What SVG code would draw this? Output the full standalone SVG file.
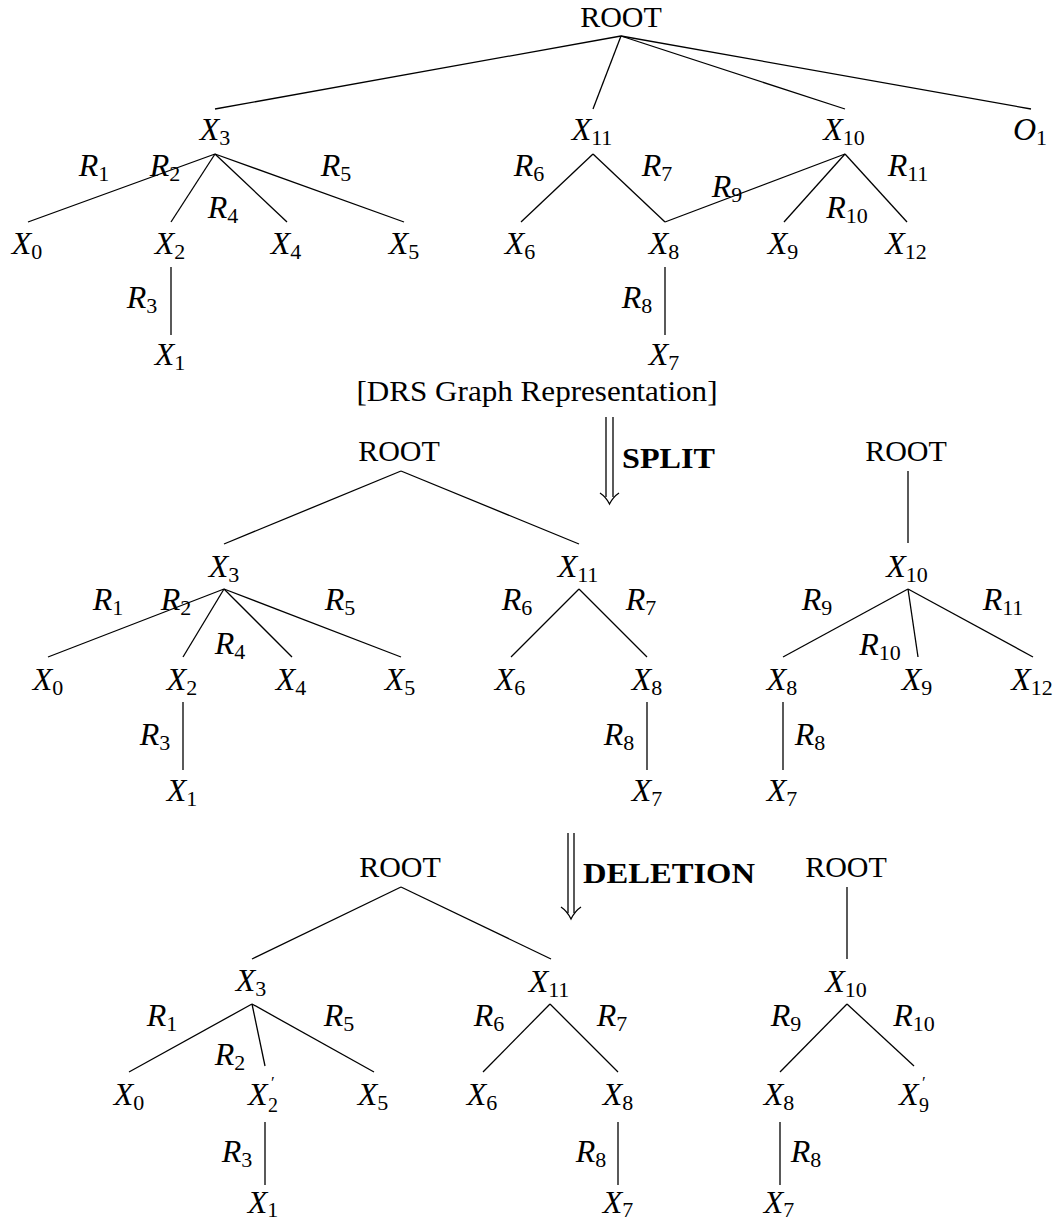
<svg xmlns="http://www.w3.org/2000/svg" width="1063" height="1223" viewBox="0 0 1063 1223">
<style>
text{font-family:"Liberation Serif","DejaVu Serif",serif;fill:#000}
.m{font-style:italic;font-size:32px;text-anchor:middle}
.p{font-style:italic;font-size:32px}
.s{font-style:normal;font-size:22px}
.q{font-style:normal;font-size:17px}
.t{font-style:normal;font-size:20px}
.r{font-size:30px;text-anchor:middle}
.b{font-weight:bold;font-size:30px}
line,path{stroke:#000;stroke-width:1.3;fill:none}
</style>
<rect width="1063" height="1223" fill="#fff"/>
<g id="connectors">
<line x1="621" y1="36" x2="215" y2="109"/>
<line x1="621" y1="36" x2="593" y2="109"/>
<line x1="621" y1="36" x2="845" y2="109"/>
<line x1="621" y1="36" x2="1031" y2="109"/>
<line x1="215" y1="154" x2="28" y2="222"/>
<line x1="215" y1="154" x2="171" y2="222"/>
<line x1="215" y1="154" x2="287" y2="222"/>
<line x1="215" y1="154" x2="404" y2="222"/>
<line x1="171" y1="267" x2="171" y2="335"/>
<line x1="593" y1="154" x2="521" y2="222"/>
<line x1="593" y1="154" x2="665" y2="222"/>
<line x1="845" y1="154" x2="665" y2="222"/>
<line x1="845" y1="154" x2="784" y2="222"/>
<line x1="845" y1="154" x2="907" y2="222"/>
<line x1="665" y1="267" x2="665" y2="335"/>
<line x1="606" y1="417" x2="606" y2="497"/>
<line x1="613" y1="417" x2="613" y2="497"/>
<path d="M600,493 Q606,497 609.5,504 Q613,497 619,493"/>
<line x1="401" y1="471" x2="224" y2="544"/>
<line x1="401" y1="471" x2="579" y2="544"/>
<line x1="224" y1="589" x2="48" y2="657"/>
<line x1="224" y1="589" x2="183" y2="657"/>
<line x1="224" y1="589" x2="292" y2="657"/>
<line x1="224" y1="589" x2="401" y2="657"/>
<line x1="183" y1="702" x2="183" y2="770"/>
<line x1="579" y1="589" x2="511" y2="657"/>
<line x1="579" y1="589" x2="647" y2="657"/>
<line x1="647" y1="702" x2="647" y2="770"/>
<line x1="908" y1="471" x2="908" y2="543"/>
<line x1="908" y1="589" x2="783" y2="657"/>
<line x1="908" y1="589" x2="918" y2="657"/>
<line x1="908" y1="589" x2="1033" y2="657"/>
<line x1="783" y1="702" x2="783" y2="770"/>
<line x1="568" y1="833" x2="568" y2="913"/>
<line x1="574" y1="833" x2="574" y2="913"/>
<path d="M561,907 Q567,911 571,919 Q575,911 581,907"/>
<line x1="401" y1="887" x2="252" y2="959"/>
<line x1="401" y1="887" x2="551" y2="959"/>
<line x1="252" y1="1004" x2="129" y2="1072"/>
<line x1="252" y1="1004" x2="265" y2="1066"/>
<line x1="252" y1="1004" x2="374" y2="1072"/>
<line x1="265" y1="1122" x2="265" y2="1185"/>
<line x1="550" y1="1004" x2="483" y2="1072"/>
<line x1="550" y1="1004" x2="618" y2="1072"/>
<line x1="618" y1="1122" x2="618" y2="1185"/>
<line x1="847" y1="887" x2="847" y2="959"/>
<line x1="847" y1="1004" x2="780" y2="1072"/>
<line x1="847" y1="1004" x2="914" y2="1066"/>
<line x1="780" y1="1122" x2="780" y2="1185"/>
</g>
<g id="edge-labels">
<text class="m" x="94" y="176">R<tspan class="s" dy="5">1</tspan></text>
<text class="m" x="165" y="176">R<tspan class="s" dy="5">2</tspan></text>
<text class="m" x="336" y="176">R<tspan class="s" dy="5">5</tspan></text>
<text class="m" x="223" y="218">R<tspan class="s" dy="5">4</tspan></text>
<text class="m" x="142" y="308">R<tspan class="s" dy="5">3</tspan></text>
<text class="m" x="529" y="176">R<tspan class="s" dy="5">6</tspan></text>
<text class="m" x="657" y="176">R<tspan class="s" dy="5">7</tspan></text>
<text class="m" x="727" y="197">R<tspan class="s" dy="5">9</tspan></text>
<text class="m" x="847" y="218">R<tspan class="s" dy="5">10</tspan></text>
<text class="m" x="908" y="176">R<tspan class="s" dy="5">11</tspan></text>
<text class="m" x="637" y="308">R<tspan class="s" dy="5">8</tspan></text>
<text class="m" x="108" y="610">R<tspan class="s" dy="5">1</tspan></text>
<text class="m" x="176" y="610">R<tspan class="s" dy="5">2</tspan></text>
<text class="m" x="340" y="610">R<tspan class="s" dy="5">5</tspan></text>
<text class="m" x="230" y="654">R<tspan class="s" dy="5">4</tspan></text>
<text class="m" x="155" y="745">R<tspan class="s" dy="5">3</tspan></text>
<text class="m" x="517" y="610">R<tspan class="s" dy="5">6</tspan></text>
<text class="m" x="641" y="610">R<tspan class="s" dy="5">7</tspan></text>
<text class="m" x="619" y="745">R<tspan class="s" dy="5">8</tspan></text>
<text class="m" x="817" y="610">R<tspan class="s" dy="5">9</tspan></text>
<text class="m" x="880" y="655">R<tspan class="s" dy="5">10</tspan></text>
<text class="m" x="1003" y="610">R<tspan class="s" dy="5">11</tspan></text>
<text class="m" x="810" y="745">R<tspan class="s" dy="5">8</tspan></text>
<text class="m" x="162" y="1026">R<tspan class="s" dy="5">1</tspan></text>
<text class="m" x="339" y="1026">R<tspan class="s" dy="5">5</tspan></text>
<text class="m" x="230" y="1065">R<tspan class="s" dy="5">2</tspan></text>
<text class="m" x="237" y="1162">R<tspan class="s" dy="5">3</tspan></text>
<text class="m" x="489" y="1026">R<tspan class="s" dy="5">6</tspan></text>
<text class="m" x="612" y="1026">R<tspan class="s" dy="5">7</tspan></text>
<text class="m" x="591" y="1162">R<tspan class="s" dy="5">8</tspan></text>
<text class="m" x="786" y="1026">R<tspan class="s" dy="5">9</tspan></text>
<text class="m" x="914" y="1026">R<tspan class="s" dy="5">10</tspan></text>
<text class="m" x="806" y="1162">R<tspan class="s" dy="5">8</tspan></text>
</g>
<g id="captions">
<text class="r" x="537" y="401" textLength="361" lengthAdjust="spacingAndGlyphs">[DRS Graph Representation]</text>
<text class="b" x="622" y="468" textLength="93" lengthAdjust="spacingAndGlyphs">SPLIT</text>
<text class="b" x="583" y="883" textLength="172" lengthAdjust="spacingAndGlyphs">DELETION</text>
</g>
<g id="t-root"><text class="r" x="621" y="27">ROOT</text></g>
<g id="t-x3"><text class="m" x="215" y="140">X<tspan class="s" dy="5">3</tspan></text></g>
<g id="t-x11"><text class="m" x="592" y="140">X<tspan class="s" dy="5">11</tspan></text></g>
<g id="t-x10"><text class="m" x="844" y="140">X<tspan class="s" dy="5">10</tspan></text></g>
<g id="t-o1"><text class="m" x="1030" y="140">O<tspan class="s" dy="5">1</tspan></text></g>
<g id="t-x0"><text class="m" x="27" y="254">X<tspan class="s" dy="5">0</tspan></text></g>
<g id="t-x2"><text class="m" x="170" y="254">X<tspan class="s" dy="5">2</tspan></text></g>
<g id="t-x4"><text class="m" x="286" y="254">X<tspan class="s" dy="5">4</tspan></text></g>
<g id="t-x5"><text class="m" x="404" y="254">X<tspan class="s" dy="5">5</tspan></text></g>
<g id="t-x6"><text class="m" x="520" y="254">X<tspan class="s" dy="5">6</tspan></text></g>
<g id="t-x8"><text class="m" x="664" y="254">X<tspan class="s" dy="5">8</tspan></text></g>
<g id="t-x9"><text class="m" x="783" y="254">X<tspan class="s" dy="5">9</tspan></text></g>
<g id="t-x12"><text class="m" x="906" y="254">X<tspan class="s" dy="5">12</tspan></text></g>
<g id="t-x1"><text class="m" x="170" y="365">X<tspan class="s" dy="5">1</tspan></text></g>
<g id="t-x7"><text class="m" x="664" y="365">X<tspan class="s" dy="5">7</tspan></text></g>
<g id="m-root1"><text class="r" x="399" y="461">ROOT</text></g>
<g id="m-x3"><text class="m" x="224" y="577">X<tspan class="s" dy="5">3</tspan></text></g>
<g id="m-x11"><text class="m" x="578" y="577">X<tspan class="s" dy="5">11</tspan></text></g>
<g id="m-x0"><text class="m" x="48" y="690">X<tspan class="s" dy="5">0</tspan></text></g>
<g id="m-x2"><text class="m" x="182" y="690">X<tspan class="s" dy="5">2</tspan></text></g>
<g id="m-x4"><text class="m" x="291" y="690">X<tspan class="s" dy="5">4</tspan></text></g>
<g id="m-x5"><text class="m" x="400" y="690">X<tspan class="s" dy="5">5</tspan></text></g>
<g id="m-x6"><text class="m" x="510" y="690">X<tspan class="s" dy="5">6</tspan></text></g>
<g id="m-x8"><text class="m" x="647" y="690">X<tspan class="s" dy="5">8</tspan></text></g>
<g id="m-x1"><text class="m" x="182" y="801">X<tspan class="s" dy="5">1</tspan></text></g>
<g id="m-x7"><text class="m" x="647" y="801">X<tspan class="s" dy="5">7</tspan></text></g>
<g id="m-root2"><text class="r" x="906" y="461">ROOT</text></g>
<g id="m-x10"><text class="m" x="907" y="577">X<tspan class="s" dy="5">10</tspan></text></g>
<g id="m-x8b"><text class="m" x="782" y="690">X<tspan class="s" dy="5">8</tspan></text></g>
<g id="m-x9"><text class="m" x="917" y="690">X<tspan class="s" dy="5">9</tspan></text></g>
<g id="m-x12"><text class="m" x="1032" y="690">X<tspan class="s" dy="5">12</tspan></text></g>
<g id="m-x7b"><text class="m" x="782" y="801">X<tspan class="s" dy="5">7</tspan></text></g>
<g id="b-root1"><text class="r" x="400" y="877">ROOT</text></g>
<g id="b-x3"><text class="m" x="251" y="991">X<tspan class="s" dy="5">3</tspan></text></g>
<g id="b-x11"><text class="m" x="549" y="992">X<tspan class="s" dy="5">11</tspan></text></g>
<g id="b-x0"><text class="m" x="129" y="1105">X<tspan class="s" dy="5">0</tspan></text></g>
<g id="b-x2p"><text class="p" x="248" y="1105">X<tspan class="q" x="271" y="1088">′</tspan><tspan class="t" x="268" y="1112">2</tspan></text></g>
<g id="b-x5"><text class="m" x="373" y="1105">X<tspan class="s" dy="5">5</tspan></text></g>
<g id="b-x6"><text class="m" x="482" y="1105">X<tspan class="s" dy="5">6</tspan></text></g>
<g id="b-x8"><text class="m" x="618" y="1105">X<tspan class="s" dy="5">8</tspan></text></g>
<g id="b-x1"><text class="m" x="263" y="1213">X<tspan class="s" dy="4">1</tspan></text></g>
<g id="b-x7"><text class="m" x="618" y="1213">X<tspan class="s" dy="4">7</tspan></text></g>
<g id="b-root2"><text class="r" x="846" y="877">ROOT</text></g>
<g id="b-x10"><text class="m" x="846" y="992">X<tspan class="s" dy="5">10</tspan></text></g>
<g id="b-x8b"><text class="m" x="779" y="1105">X<tspan class="s" dy="5">8</tspan></text></g>
<g id="b-x9p"><text class="p" x="899" y="1105">X<tspan class="q" x="922" y="1088">′</tspan><tspan class="t" x="919" y="1112">9</tspan></text></g>
<g id="b-x7b"><text class="m" x="779" y="1213">X<tspan class="s" dy="4">7</tspan></text></g>
</svg>
